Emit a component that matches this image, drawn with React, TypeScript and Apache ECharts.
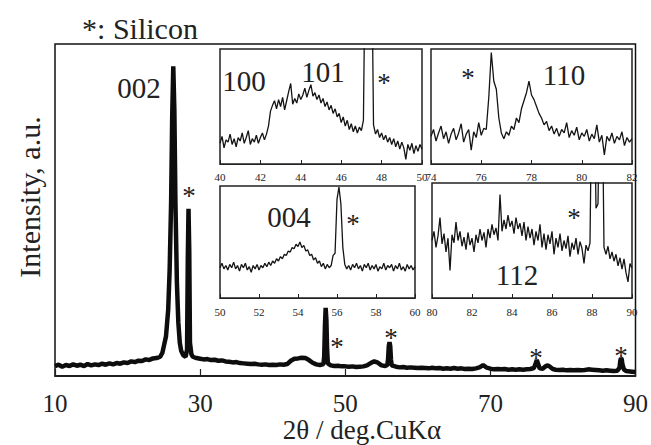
import React, { useEffect, useRef } from "react";
import * as echarts from "echarts";

// ---- Main pattern (2θ in degrees, intensity in % of plot height) ----
const mainTheta = [
  10, 10.5, 11, 11.5, 12, 12.5, 13, 13.5, 14, 14.5, 15, 15.5, 16, 16.5, 17, 17.5, 18, 18.5, 19, 19.5,
  20, 20.5, 21, 21.5, 22, 22.5, 23, 23.5, 24, 24.5, 24.8, 25, 25.3, 25.6, 25.8, 26, 26.15, 26.3, 26.45, 26.6,
  26.8, 27, 27.2, 27.4, 27.7, 28, 28.2, 28.3, 28.4, 28.5, 28.6, 28.8, 29, 29.5, 30, 30.5, 31, 31.5, 32, 32.5,
  33, 33.5, 34, 34.5, 35, 35.5, 36, 36.5, 37, 37.5, 38, 38.5, 39, 39.5, 40, 40.5, 41, 41.5, 42, 42.5,
  43, 43.5, 44, 44.5, 45, 45.5, 46, 46.5, 47, 47.1, 47.2, 47.3, 47.4, 47.5, 47.6, 48, 48.5, 49, 49.5, 50,
  50.5, 51, 51.5, 52, 52.5, 53, 53.5, 54, 54.5, 55, 55.5, 55.8, 55.9, 56, 56.1, 56.2, 56.3, 56.4, 57, 57.5,
  58, 58.5, 59, 59.5, 60, 60.5, 61, 61.5, 62, 62.5, 63, 63.5, 64, 64.5, 65, 65.5, 66, 66.5, 67, 67.5,
  68, 68.5, 69, 69.5, 70, 70.5, 71, 71.5, 72, 72.5, 73, 73.5, 74, 74.5, 75, 75.5, 76, 76.2, 76.4, 76.6,
  76.8, 77.2, 77.6, 77.9, 78.2, 78.6, 79, 79.5, 80, 80.5, 81, 81.5, 82, 82.5, 83, 83.5, 84, 84.5, 85, 85.5,
  86, 86.5, 87, 87.5, 87.8, 87.9, 88, 88.1, 88.2, 88.4, 88.7, 89, 89.5, 90,
];
const mainIntensity = [
  3.0, 3.4, 2.8, 3.3, 3.0, 3.5, 3.1, 3.4, 3.0, 3.6, 3.2, 3.5, 3.3, 3.7, 3.4, 3.8, 3.5, 3.9, 3.7, 4.1,
  3.9, 4.4, 4.2, 4.6, 4.5, 5.0, 4.8, 5.3, 5.4, 5.8, 7.0, 9.0, 12, 20, 32, 52, 78, 93.3, 80, 52,
  28, 16, 10, 7.5, 6.2, 5.8, 8, 35, 50.4, 38, 10, 6.5, 5.8, 5.4, 5.2, 5.0, 5.1, 4.8, 4.9, 4.6,
  4.7, 4.4, 4.3, 4.1, 4.2, 3.9, 3.8, 3.7, 3.6, 3.7, 3.5, 3.4, 3.5, 3.3, 3.4, 3.3, 3.5, 3.4, 3.6, 4.6,
  5.2, 5.3, 5.5, 5.4, 4.8, 4.0, 3.5, 3.3, 3.6, 6, 15, 20.5, 17, 8, 3.8, 3.2, 3.0, 3.1, 2.9, 2.9,
  2.8, 2.9, 2.7, 2.8, 2.9, 3.2, 3.9, 4.4, 4.0, 3.2, 3.0, 3.3, 5, 9, 10.2, 9, 5, 3.2, 2.8, 2.6,
  2.7, 2.5, 2.6, 2.5, 2.4, 2.5, 2.4, 2.3, 2.5, 2.3, 2.4, 2.2, 2.3, 2.2, 2.4, 2.2, 2.3, 2.1, 2.2, 2.1,
  2.3, 2.6, 3.3, 2.5, 2.2, 2.0, 2.1, 2.0, 2.1, 1.9, 2.0, 1.9, 2.0, 1.9, 2.0, 2.1, 2.4, 3.5, 4.8, 3.5,
  2.3, 2.2, 2.9, 3.2, 2.8, 2.1, 1.9, 1.8, 1.9, 1.7, 1.8, 1.7, 1.8, 1.7, 1.8, 2.0, 1.9, 1.8, 1.7, 1.6,
  1.7, 1.6, 1.5, 1.6, 2.5, 4.5, 5.4, 5.0, 3.5, 2.0, 1.5, 1.4, 1.3, 1.2,
];
const mainTicks = [10, 30, 50, 70, 90];

// ---- Inset scans, 0.1° steps (intensity in % of inset height) ----
const insetAStart = 40; // 40–50°
const insetA = [
  18, 24, 14, 21, 19, 26, 17, 22, 15, 23, 20, 27, 18, 23, 29, 17, 22, 19, 25, 18,
  23, 27, 21, 26, 33, 46, 51, 55, 48, 56, 50, 58, 47, 55, 63, 70, 52, 57, 53, 61,
  56, 60, 66, 58, 64, 69, 59, 62, 56, 60, 53, 57, 50, 54, 47, 51, 44, 48, 41, 44,
  36, 41, 33, 38, 30, 35, 28, 33, 27, 32, 29, 38, 200, 200, 200, 200, 34, 26, 30, 23,
  27, 21, 25, 19, 23, 17, 22, 15, 20, 13, 19, 14, 4, 17, 12, 18, 9, 16, 11, 17, 13,
];
const insetBStart = 74; // 74–82°
const insetB = [
  24, 30, 20, 27, 33, 22, 28, 18, 26, 31, 21, 27, 35, 19, 26, 30, 12, 28, 23, 36,
  25, 31, 30, 58, 97, 72, 65, 40, 27, 22, 28, 25, 33, 30, 40, 36, 48, 55, 62, 72,
  60, 56, 50, 44, 40, 34, 37, 29, 33, 26, 31, 24, 30, 27, 36, 23, 29, 25, 32, 21,
  27, 24, 30, 20, 26, 22, 34, 19, 25, 8, 24, 20, 27, 18, 24, 21, 28, 16, 23, 19, 22,
];
const insetCStart = 50; // 50–60°
const insetC = [
  27, 31, 26, 29, 25, 30, 27, 32, 26, 29, 24, 30, 27, 31, 25, 28, 23, 29, 26, 30,
  25, 29, 27, 31, 28, 32, 29, 33, 31, 35, 33, 37, 35, 39, 38, 42, 41, 45, 44, 48,
  46, 50, 45, 47, 42, 43, 38, 39, 34, 36, 31, 33, 28, 31, 26, 30, 27, 29, 38, 40,
  88, 99, 84, 45, 30, 26, 29, 25, 30, 27, 31, 26, 29, 24, 30, 27, 31, 25, 29, 26,
  30, 24, 28, 26, 31, 25, 29, 27, 30, 24, 29, 26, 31, 25, 28, 24, 30, 26, 29, 25, 28,
];
const insetDStart = 80; // 80–90°
const insetD = [
  50, 58, 44, 54, 70, 47, 56, 40, 52, 24, 55, 48, 66, 50, 58, 45, 53, 42, 57, 46,
  52, 40, 55, 48, 60, 50, 57, 44, 60, 52, 64, 55, 61, 50, 90, 58, 68, 60, 72, 62,
  67, 56, 70, 60, 65, 54, 66, 50, 62, 52, 60, 46, 58, 50, 64, 44, 56, 42, 55, 47,
  58, 38, 52, 44, 56, 41, 50, 43, 54, 36, 48, 42, 52, 38, 49, 43, 30, 46, 41, 48,
  200, 200, 78, 82, 200, 200, 44, 38, 45, 34, 40, 32, 38, 28, 35, 25, 34, 22, 14, 30, 26,
];
const STEP = 0.1;

const FONT = "Liberation Serif";
const INK = "#141414";

function toPairs(start: number, vals: number[]) {
  return vals.map((v, i) => [Math.round((start + i * STEP) * 100) / 100, v]);
}

export default function App() {
  const ref = useRef<HTMLDivElement>(null);
  useEffect(() => {
    if (!ref.current) return;
    const chart = echarts.init(ref.current, undefined, { renderer: "svg" });

    const insets = [
      { grid: { left: 220, top: 49, width: 202, height: 115 }, min: 40, max: 50, margin: 7, start: insetAStart, data: insetA },
      { grid: { left: 431, top: 49, width: 201, height: 115 }, min: 74, max: 82, margin: 7, start: insetBStart, data: insetB },
      { grid: { left: 220, top: 186, width: 195, height: 112 }, min: 50, max: 60, margin: 8, start: insetCStart, data: insetC },
      { grid: { left: 432, top: 183, width: 200, height: 115 }, min: 80, max: 90, margin: 8, start: insetDStart, data: insetD },
    ];

    const grids: any[] = [
      { left: 55, top: 44, width: 582, height: 332, show: true, borderColor: "#111", borderWidth: 1.5, backgroundColor: "transparent", z: 0 },
      ...insets.map((s) => ({ ...s.grid, show: true, borderColor: "#222", borderWidth: 1.5, backgroundColor: "#fff", z: 3 })),
    ];

    const xAxes: any[] = [
      {
        gridIndex: 0, type: "value", min: 10, max: 90, interval: 20,
        axisLine: { show: true, lineStyle: { color: "#111", width: 1.5 } },
        axisTick: { show: true, inside: true, length: 7, lineStyle: { color: "#222", width: 1.2 } },
        axisLabel: { fontSize: 25, fontFamily: FONT, color: "#222", margin: 15,
          formatter: (v: number) => (mainTicks.includes(v) ? String(v) : "") },
        splitLine: { show: false },
      },
      ...insets.map((s, i) => ({
        gridIndex: i + 1, type: "value", min: s.min, max: s.max, interval: 2, z: 4,
        axisLine: { show: true, lineStyle: { color: "#222", width: 1 } },
        axisTick: { show: true, inside: true, length: 4, lineStyle: { color: "#222", width: 1 } },
        axisLabel: { fontSize: 11, fontFamily: FONT, color: "#222", margin: s.margin },
        splitLine: { show: false },
      })),
    ];
    const yAxes: any[] = [0, 1, 2, 3, 4].map((g) => ({ gridIndex: g, type: "value", min: 0, max: 100, show: false }));

    const series: any[] = [
      {
        type: "line", xAxisIndex: 0, yAxisIndex: 0, showSymbol: false, z: 1,
        data: mainTheta.map((t, i) => [t, mainIntensity[i]]),
        lineStyle: { color: "#0d0d0d", width: 4.5 }, silent: true,
      },
      ...insets.map((s, i) => ({
        type: "line", xAxisIndex: i + 1, yAxisIndex: i + 1, showSymbol: false, z: 5, clip: true,
        data: toPairs(s.start, s.data),
        lineStyle: { color: INK, width: 1.3 }, silent: true,
      })),
    ];

    const txt = (text: string, x: number, y: number, size: number, extra: any = {}) => ({
      type: "text", x, y, z: 10, ...extra,
      style: { text, fontSize: size, fontFamily: FONT, fill: "#222", align: "center", verticalAlign: "middle",
        textAlign: "center", textVerticalAlign: "middle" },
    });
    const star = (x: number, y: number) => txt("*", x, y + 6, 27);

    const graphic = [
      txt("*: Silicon", 140, 28, 30),
      txt("Intensity, a.u.", 29, 197, 30, { rotation: Math.PI / 2 }),
      txt("2θ / deg.CuKα", 362, 430, 27),
      txt("002", 139, 88, 29),
      txt("100", 244, 81, 29),
      txt("101", 323, 72, 29),
      star(384, 77),
      star(468, 72),
      txt("110", 564, 75, 29),
      txt("004", 289, 217, 29),
      star(353, 218),
      star(574, 212),
      txt("112", 517, 275, 29),
      star(189, 190),
      star(337, 341),
      star(391, 332),
      star(536, 352),
      star(621, 350),
    ];

    chart.setOption({
      animation: false,
      backgroundColor: "#fff",
      grid: grids,
      xAxis: xAxes,
      yAxis: yAxes,
      series,
      graphic,
    });
    return () => chart.dispose();
  }, []);

  return <div ref={ref} style={{ position: "absolute", left: 0, top: 0, width: 651, height: 445 }} />;
}
